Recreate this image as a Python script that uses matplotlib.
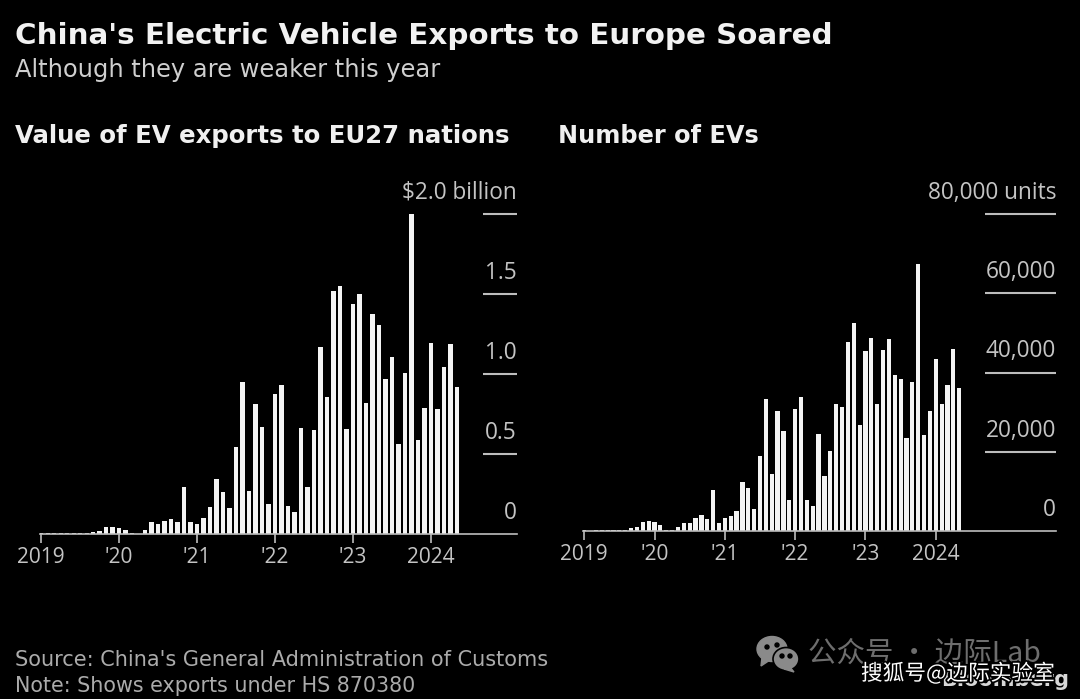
import matplotlib
matplotlib.use("Agg")
import matplotlib.pyplot as plt
from matplotlib.patches import Ellipse, Polygon
from matplotlib.transforms import ScaledTranslation
import matplotlib.patheffects as pe

W, H = 1080, 699
BG = "#000000"
BAR = "#f4f4f4"
GREY = "#c4c4c4"
LINE = "#bdbdbd"
TEXTFONT = "DejaVu Sans"
NUMFONT = "Open Sans"
CJK = ["Noto Sans CJK SC", "DejaVu Sans"]

title = "China's Electric Vehicle Exports to Europe Soared"
subtitle = "Although they are weaker this year"
left_title = "Value of EV exports to EU27 nations"
right_title = "Number of EVs"
source = "Source: China's General Administration of Customs"
note = "Note: Shows exports under HS 870380"

year_ticks = [0, 12, 24, 36, 48, 60]
year_labels = ["2019", "'20", "'21", "'22", "'23", "2024"]

value_bn = [0.005, 0.005, 0.005, 0.005, 0.005, 0.005, 0.005, 0.005, 0.013, 0.017,
            0.044, 0.044, 0.035, 0.027, 0.004, 0.002, 0.023, 0.075, 0.063, 0.081,
            0.092, 0.073, 0.294, 0.077, 0.063, 0.100, 0.167, 0.344, 0.265, 0.160,
            0.546, 0.952, 0.269, 0.810, 0.669, 0.190, 0.877, 0.931, 0.175, 0.135,
            0.665, 0.292, 0.648, 1.171, 0.858, 1.517, 1.550, 0.656, 1.435, 1.500,
            0.817, 1.373, 1.304, 0.969, 1.104, 0.563, 1.008, 2.008, 0.588, 0.790,
            1.196, 0.783, 1.046, 1.190, 0.919]
units = [170, 100, 170, 250, 250, 250, 250, 250, 760, 930,
         2270, 2440, 2190, 1600, 340, 340, 1010, 2100, 2100, 3280,
         4040, 3030, 10270, 2100, 3280, 3790, 5140, 12460, 10860, 5560,
         18860, 33430, 14310, 30310, 25180, 7750, 30730, 33930, 7910, 6400,
         24500, 13980, 20120, 32000, 31240, 47660, 52370, 26860, 45470, 48750,
         32080, 45800, 48420, 39490, 38480, 23410, 37720, 67440, 24170, 30310,
         43450, 32080, 36800, 45890, 36210]

left_yticks = [0, 0.5, 1.0, 1.5, 2.0]
left_ylabels = ["0", "0.5", "1.0", "1.5", "$2.0 billion"]
right_yticks = [0, 20000, 40000, 60000, 80000]
right_ylabels = ["0", "20,000", "40,000", "60,000", "80,000 units"]

fig = plt.figure(figsize=(W / 100, H / 100), dpi=100, facecolor=BG)


def px_axes(x0, x1, ytop, ybottom):
    a = fig.add_axes([x0 / W, 1 - ybottom / H, (x1 - x0) / W, (ybottom - ytop) / H])
    a.set_facecolor(BG)
    return a


def panel(a, values, width, month_px, x_left_px, x_right_px, yticks, ylabels, ymax, tick_len_px):
    months = list(range(len(values)))
    a.bar(months, values, width=width, color=BAR, linewidth=0)
    a.set_xlim(0 - 1.2 / month_px, (x_right_px - x_left_px) / month_px)
    a.set_ylim(0, ymax)
    for s in ("top", "left", "right"):
        a.spines[s].set_visible(False)
    a.spines["bottom"].set_color(LINE)
    a.spines["bottom"].set_linewidth(1.2)
    a.set_xticks(year_ticks, year_labels, fontfamily=NUMFONT, fontsize=15, color=GREY)
    a.tick_params(axis="x", length=6.5, width=1.2, color=LINE, pad=3)
    a.set_yticks(yticks)
    a.tick_params(axis="y", which="both", left=False, right=True, labelleft=False, labelright=True,
                  direction="in", length=tick_len_px * 0.72, width=1.5, color=LINE, pad=0)
    a.set_yticklabels(ylabels, fontfamily=NUMFONT, fontsize=16.3, color=GREY)
    shift = ScaledTranslation(0, 9 / 100, fig.dpi_scale_trans)
    for t in a.yaxis.get_major_ticks():
        t.label2.set_ha("right")
        t.label2.set_va("bottom")
        t.label2.set_transform(t.label2.get_transform() + shift)
    # the baseline tick sits on the axis line and is not drawn
    a.yaxis.get_major_ticks()[0].tick2line.set_visible(False)


ax1 = px_axes(40, 517, 214, 534)
panel(ax1, value_bn, 0.67, 6.5, 41, 517, left_yticks, left_ylabels, 2.0, 34)
ax2 = px_axes(583, 1056, 214, 531)
panel(ax2, units, 0.72, 5.85, 585, 1056, right_yticks, right_ylabels, 80000, 71)


def ftext(x, y, s, **kw):
    return fig.text(x / W, 1 - y / H, s, **kw)


ftext(15, 36, title, fontfamily=TEXTFONT, fontweight="bold", fontsize=21.15, color="#f2f2f2", va="center")
ftext(15, 70, subtitle, fontfamily=TEXTFONT, fontsize=17.4, color="#cfcfcf", va="center")
ftext(15, 136, left_title, fontfamily=TEXTFONT, fontweight="bold", fontsize=17.6, color="#f0f0f0", va="center")
ftext(558, 136, right_title, fontfamily=TEXTFONT, fontweight="bold", fontsize=17.25, color="#f0f0f0", va="center")
ftext(15, 660, source, fontfamily=TEXTFONT, fontsize=15.05, color="#ababab", va="center")
ftext(15, 686, note, fontfamily=TEXTFONT, fontsize=14.9, color="#ababab", va="center")

# logo remnant and the watermarks laid over it
ftext(1069, 680, "Bloomberg", fontfamily=TEXTFONT, fontweight="bold", fontsize=15, color="#d8d8d8",
      ha="right", va="center")
ftext(808, 654, "公众号 · 边际Lab", family=CJK, fontsize=20.5, color="#6e6e6e", va="center")
ftext(861, 674, "搜狐号@边际实验室", family=CJK, fontsize=15.6, color="#ffffff", va="center",
      path_effects=[pe.withStroke(linewidth=2.5, foreground="#000000")])

# WeChat glyph in figure pixel coordinates
icon = fig.add_axes([0, 0, 1, 1], facecolor="none")
icon.set_xlim(0, W)
icon.set_ylim(H, 0)
icon.axis("off")
icon.add_patch(Ellipse((772, 649), 30, 25, color="#8a8a8a"))
icon.add_patch(Polygon([[762, 657], [761, 666], [770, 660]], color="#8a8a8a"))
icon.add_patch(Ellipse((786, 659), 26, 23, facecolor="#8a8a8a", edgecolor=BG, lw=1.2))
icon.add_patch(Polygon([[790, 667], [794, 672], [784, 669]], color="#8a8a8a"))
for x, y in [(767, 647), (777, 645), (782, 656), (790, 656)]:
    icon.add_patch(Ellipse((x, y), 4, 4, color=BG))

fig.savefig("out.png", dpi=100, facecolor=BG)
